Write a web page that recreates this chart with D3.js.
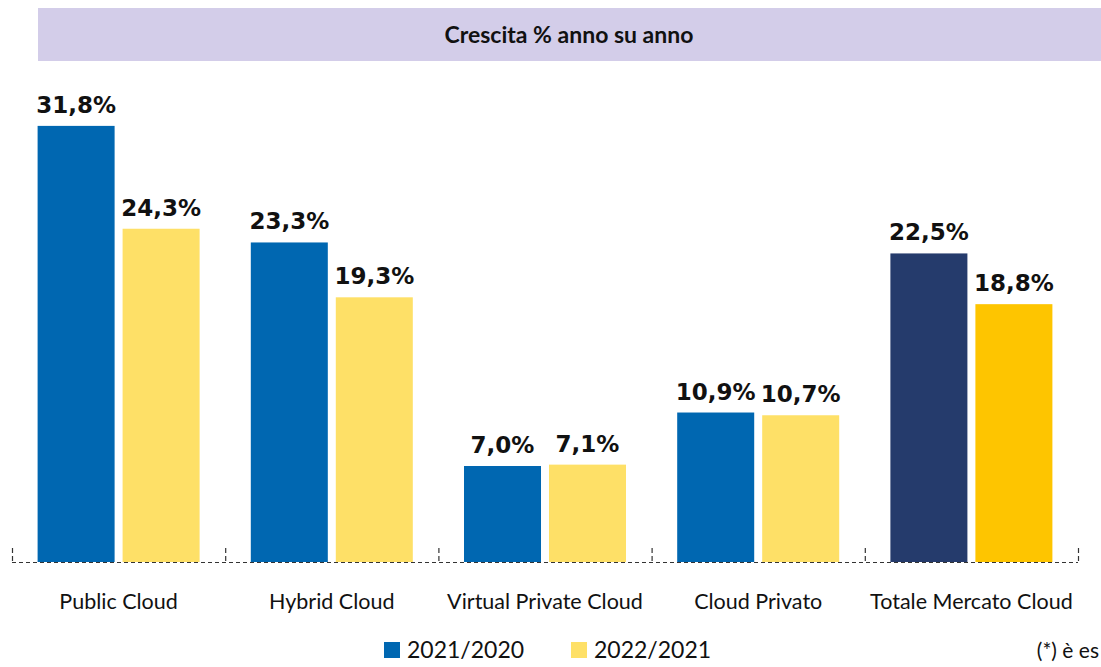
<!DOCTYPE html>
<html>
<head>
<meta charset="utf-8">
<script src="https://cdn.jsdelivr.net/npm/d3@7/dist/d3.min.js"></script>
<style>
  html, body { margin: 0; padding: 0; background: #fff; }
  svg { display: block; }
  text { font-family: "Lato", "Open Sans", sans-serif; fill: #111; }
  .val { font-family: "DejaVu Sans", sans-serif; }
</style>
</head>
<body>
<svg id="chart" width="1101" height="667"></svg>
<script>
// Year-over-year growth of the cloud market segments
const categories = ["Public Cloud", "Hybrid Cloud", "Virtual Private Cloud", "Cloud Privato", "Totale Mercato Cloud"];
const seriesNames = ["2021/2020", "2022/2021"];
const growth2021 = [31.8, 23.3, 7.0, 10.9, 22.5];
const growth2022 = [24.3, 19.3, 7.1, 10.7, 18.8];
const titleText = "Crescita % anno su anno";
const footnoteText = "(*) è es";

const colors = {
  "2021/2020": "#0067b1",
  "2022/2021": "#fee067"
};
// The total market group uses darker shades
const totalColors = {
  "2021/2020": "#253b6c",
  "2022/2021": "#fec500"
};

const fmt = v => v.toFixed(1).replace(".", ",") + "%";

const svg = d3.select("#chart");
const W = 1101, H = 667;

// Title banner
svg.append("rect")
  .attr("x", 38).attr("y", 8)
  .attr("width", W - 38).attr("height", 53)
  .attr("fill", "#d3cde9");
svg.append("text")
  .attr("x", 569).attr("y", 43)
  .attr("text-anchor", "middle")
  .attr("font-size", 23).attr("font-weight", 700)
  .text(titleText);

const x0 = d3.scaleBand().domain(categories).range([12, 1078]).padding(0);
const x1 = d3.scaleBand().domain(seriesNames)
  .range([25.6, x0.bandwidth() - 25.6]).paddingInner(0.094);
const y = d3.scaleLinear().domain([0, 35]).range([562, 82]);

const rows = categories.map((c, i) => ({
  category: c,
  values: [
    { series: seriesNames[0], value: growth2021[i] },
    { series: seriesNames[1], value: growth2022[i] }
  ]
}));

// Dashed baseline with group separators
const base = svg.append("g");
base.append("line")
  .attr("x1", x0.range()[0]).attr("x2", x0.range()[1])
  .attr("y1", y(0) + 0.5).attr("y2", y(0) + 0.5)
  .attr("stroke", "#333").attr("stroke-width", 1.2)
  .attr("stroke-dasharray", "4,3");
const sepX = categories.map(c => x0(c)).concat([x0.range()[1]]);
base.selectAll(".sep").data(sepX).enter().append("line")
  .attr("x1", d => d + 0.5).attr("x2", d => d + 0.5)
  .attr("y1", y(0) - 14).attr("y2", y(0) + 0.5)
  .attr("stroke", "#333").attr("stroke-width", 1.2)
  .attr("stroke-dasharray", "5,3");

const groups = svg.selectAll(".grp").data(rows).enter().append("g")
  .attr("transform", d => `translate(${x0(d.category)},0)`);

groups.selectAll("rect").data(d => d.values.map(v => ({ ...v, total: d.category === categories[4] })))
  .enter().append("rect")
  .attr("x", d => x1(d.series))
  .attr("y", d => y(d.value))
  .attr("width", x1.bandwidth())
  .attr("height", d => y(0) - y(d.value))
  .attr("fill", d => d.total ? totalColors[d.series] : colors[d.series]);

groups.selectAll(".val").data(d => d.values)
  .enter().append("text")
  .attr("class", "val")
  .attr("x", d => x1(d.series) + x1.bandwidth() / 2)
  .attr("y", d => y(d.value) - 13)
  .attr("text-anchor", "middle")
  .attr("font-size", 23).attr("font-weight", 700)
  .text(d => fmt(d.value));

// Category axis labels
svg.selectAll(".cat").data(categories).enter().append("text")
  .attr("x", d => x0(d) + x0.bandwidth() / 2)
  .attr("y", 609)
  .attr("text-anchor", "middle")
  .attr("font-size", 21.5)
  .text(d => d);

// Legend
const legendX = [384, 571];
const leg = svg.selectAll(".leg").data(seriesNames).enter().append("g")
  .attr("transform", (d, i) => `translate(${legendX[i]},642)`);
leg.append("rect").attr("width", 16).attr("height", 16)
  .attr("fill", d => colors[d]);
leg.append("text").attr("x", 23).attr("y", 16)
  .attr("font-size", 23).text(d => d);

// Footnote, right-aligned at the page edge
svg.append("text").attr("x", W - 2).attr("y", 658)
  .attr("text-anchor", "end")
  .attr("font-size", 21).text(footnoteText);
</script>
</body>
</html>
